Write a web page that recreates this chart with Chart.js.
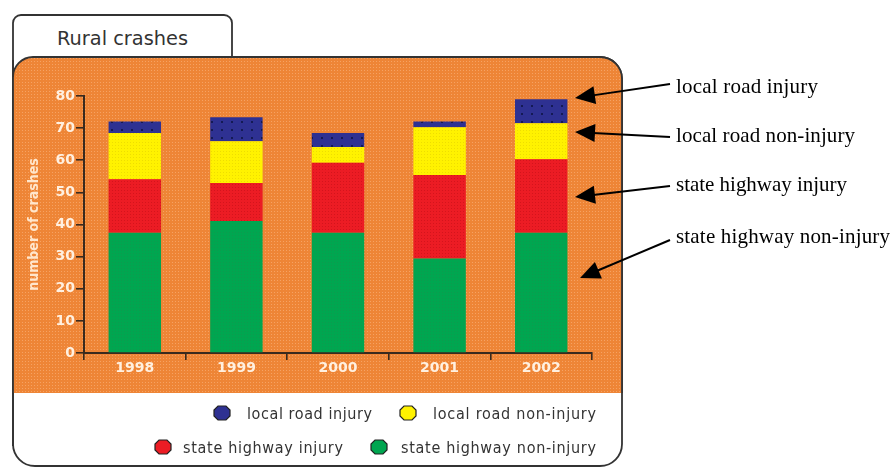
<!DOCTYPE html>
<html><head><meta charset="utf-8">
<script src="https://cdn.jsdelivr.net/npm/chart.js@4.4.1/dist/chart.umd.min.js"></script>
<style>
html,body{margin:0;padding:0;background:#fff;width:892px;height:467px;overflow:hidden}
#bg,#fg,#c{position:absolute;left:0;top:0}
</style></head><body>
<svg id="bg" width="892" height="467" xmlns="http://www.w3.org/2000/svg">
  <defs>
    <pattern id="org" width="3" height="3" patternUnits="userSpaceOnUse">
      <rect width="3" height="3" fill="#EE8536"/>
      <rect x="1" y="1" width="1" height="1" fill="#F6A262"/>
    </pattern>
  </defs>
  <path d="M13,446 L13,23 A8,8 0 0 1 21,15 L224,15 A8,8 0 0 1 232,23 L232,57 L600,57 A22,22 0 0 1 622,79 L622,444 A22,22 0 0 1 600,466 L35,466 A22,22 0 0 1 13,444 Z" fill="#fff" stroke="#333" stroke-width="1.8"/>
  <path d="M13,77 A20,20 0 0 1 33,57 L600,57 A22,22 0 0 1 622,79 L622,393 L13,393 Z" fill="url(#org)"/>
  <path d="M13,77 A20,20 0 0 1 33,57 L232,57" fill="none" stroke="#333" stroke-width="1.8"/>
  <path d="M232,57 L600,57 A22,22 0 0 1 622,79 L622,393" fill="none" stroke="#333" stroke-width="1.8"/>
  <line x1="13" y1="60" x2="13" y2="446" stroke="#333" stroke-width="1.8"/>
  <text x="57" y="44.5" font-family="DejaVu Sans, sans-serif" font-size="20" fill="#333" textLength="131" lengthAdjust="spacingAndGlyphs">Rural crashes</text>
</svg>
<canvas id="c" width="892" height="467"></canvas>
<svg id="fg" width="892" height="467" xmlns="http://www.w3.org/2000/svg"></svg>
<script>
// ---- data ----
const categories = ['1998', '1999', '2000', '2001', '2002'];
const seriesNames = ['state highway non-injury', 'state highway injury', 'local road non-injury', 'local road injury'];
const stateHighwayNonInjury = [37.4, 41.1, 37.4, 29.4, 37.4];
const stateHighwayInjury = [16.7, 11.8, 21.8, 26.0, 22.9];
const localRoadNonInjury = [14.4, 13.0, 4.9, 14.9, 11.2];
const localRoadInjury = [3.6, 7.5, 4.4, 1.8, 7.5];
const yAxisMax = 80;
const yAxisStep = 10;
const yAxisTitle = 'number of crashes';
const seriesColors = ['#00A650', '#EC1C24', '#FFF200', '#2E3192'];
const dotColors = ['#0E9A4E', '#D4141C', '#EEDD00', '#141A55'];

function makePattern(base, dot, w, h, dw, dh) {
  const cv = document.createElement('canvas');
  cv.width = w; cv.height = h;
  const g = cv.getContext('2d');
  g.fillStyle = base; g.fillRect(0, 0, w, h);
  g.fillStyle = dot; g.fillRect(1, 1, dw, dh);
  return g.createPattern(cv, 'repeat');
}
const ctx = document.getElementById('c').getContext('2d');
const patterns = [
  makePattern(seriesColors[0], dotColors[0], 3, 3, 1, 1),
  makePattern(seriesColors[1], dotColors[1], 3, 3, 1, 1),
  makePattern(seriesColors[2], dotColors[2], 3, 3, 1, 1),
  makePattern(seriesColors[3], dotColors[3], 10, 8, 2, 2)
];
const seriesData = [stateHighwayNonInjury, stateHighwayInjury, localRoadNonInjury, localRoadInjury];

const axisColor = '#3a2a1e';
const tickTextColor = '#FFF0E0';

new Chart(ctx, {
  type: 'bar',
  data: {
    labels: categories,
    datasets: seriesNames.map((n, i) => ({
      label: n,
      data: seriesData[i],
      backgroundColor: patterns[i],
      borderWidth: 0,
      categoryPercentage: 1,
      barPercentage: 0.516
    }))
  },
  options: {
    responsive: false,
    animation: false,
    devicePixelRatio: 1,
    layout: { padding: { left: 22, right: 300, top: 96, bottom: 84 } },
    plugins: { legend: { display: false }, tooltip: { enabled: false }, title: { display: false } },
    scales: {
      x: {
        stacked: true,
        afterFit: s => { s.height = 30; },
        grid: { offset: true, drawOnChartArea: false, drawTicks: true, tickLength: 7, color: axisColor, lineWidth: 1.6 },
        border: { display: true, color: axisColor, width: 2 },
        ticks: { color: tickTextColor, padding: 0, font: { family: 'DejaVu Sans', size: 14, weight: 'bold' } }
      },
      y: {
        stacked: true,
        min: 0, max: yAxisMax,
        afterFit: s => { s.width = 62; },
        grid: { drawOnChartArea: false, drawTicks: true, tickLength: 8, color: axisColor, lineWidth: 1.6 },
        border: { display: true, color: axisColor, width: 2 },
        ticks: { stepSize: yAxisStep, color: tickTextColor, padding: 1, font: { family: 'DejaVu Sans', size: 14, weight: 'bold' } },
        title: { display: true, text: yAxisTitle, color: '#FFE6CC', padding: 4, font: { family: 'DejaVu Sans Condensed, DejaVu Sans', size: 14, weight: 'bold' } }
      }
    }
  }
});

// ---- legend & annotations (SVG text) ----
const NS = 'http://www.w3.org/2000/svg';
const fg = document.getElementById('fg');
function el(tag, attrs, text) {
  const e = document.createElementNS(NS, tag);
  for (const k in attrs) e.setAttribute(k, attrs[k]);
  if (text !== undefined) e.textContent = text;
  fg.appendChild(e);
  return e;
}
// legend: order blue, yellow / red, green
const legendLayout = [
  { s: 3, mx: 222, my: 413, tx: 247, ty: 418.5, tw: 125 },
  { s: 2, mx: 408, my: 413, tx: 433, ty: 418.5, tw: 163 },
  { s: 1, mx: 163, my: 447, tx: 183, ty: 452.5, tw: 160 },
  { s: 0, mx: 379, my: 447, tx: 401, ty: 452.5, tw: 195 }
];
legendLayout.forEach(L => {
  const cx = L.mx, cy = L.my;
  const pts = [[-4,-7],[4,-7],[8,-3],[8,3],[4,7],[-4,7],[-8,3],[-8,-3]].map(p => (cx + p[0]) + ',' + (cy + p[1])).join(' ');
  el('polygon', { points: pts, fill: seriesColors[L.s], stroke: '#222', 'stroke-width': 1.2 });
  el('text', { x: L.tx, y: L.ty, 'font-family': 'DejaVu Sans Condensed, DejaVu Sans, sans-serif', 'font-size': 16, fill: '#333', textLength: L.tw, lengthAdjust: 'spacing' }, seriesNames[L.s]);
});
// annotations on the right
const notes = [
  { s: 3, y: 93, w: 142, from: [670, 84], to: [575, 98] },
  { s: 2, y: 141.5, w: 179, from: [670, 137], to: [575, 132] },
  { s: 1, y: 190.5, w: 171, from: [670, 186], to: [575, 197] },
  { s: 0, y: 243, w: 214, from: [670, 240], to: [580, 278] }
];
notes.forEach(N => {
  el('text', { x: 676, y: N.y, 'font-family': 'Liberation Serif, Times New Roman, serif', 'font-size': 21, fill: '#000', textLength: N.w, lengthAdjust: 'spacing' }, seriesNames[N.s]);
  const [x1, y1] = N.from, [x2, y2] = N.to;
  const dx = x2 - x1, dy = y2 - y1, len = Math.hypot(dx, dy);
  const ux = dx / len, uy = dy / len, px = -uy, py = ux;
  const hl = 20, hw = 9;
  const bx = x2 - ux * hl, by = y2 - uy * hl;
  el('line', { x1: x1, y1: y1, x2: bx + ux * 2, y2: by + uy * 2, stroke: '#000', 'stroke-width': 2 });
  el('polygon', { points: `${x2},${y2} ${bx + px * hw},${by + py * hw} ${bx - px * hw},${by - py * hw}`, fill: '#000' });
});
</script>
</body></html>
